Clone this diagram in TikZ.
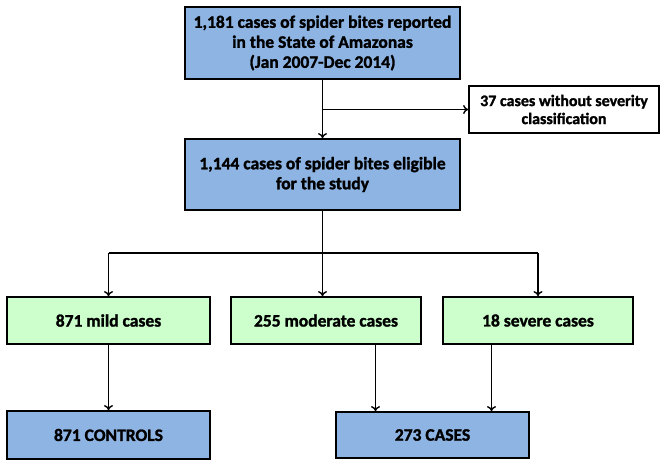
\documentclass[tikz,border=0pt]{standalone}
\usepackage{fontspec}
\setmainfont{Carlito}[BoldFeatures={FakeBold=1.5}]
\usetikzlibrary{arrows.meta}
\definecolor{boxblue}{RGB}{142,180,227}
\definecolor{boxgreen}{RGB}{204,255,204}
\tikzset{
  base/.style={draw=black, line width=1.8pt, align=center, inner sep=0pt,
    font=\bfseries\fontsize{17.5}{20}\selectfont},
  bluebox/.style={base, fill=boxblue},
  greenbox/.style={base, fill=boxgreen},
  whitebox/.style={base, fill=white, font=\bfseries\fontsize{16}{18}\selectfont},
  conn/.style={line width=1.6pt, -{To[length=5pt,width=9pt,line width=1.4pt]}},
  plain/.style={line width=1.6pt}
}
\begin{document}
\begin{tikzpicture}[x=1pt,y=1pt]
\useasboundingbox (0,0) rectangle (666,467);
\fill[white] (0,0) rectangle (666,467);
% boxes (y = 467 - pixel y)
\node[bluebox, minimum width=275, minimum height=72] (top) at (322.5,424)
  {1,181 cases of spider bites reported\\in the State of Amazonas\\(Jan 2007-Dec 2014)};
\node[whitebox, minimum width=190, minimum height=47] (side) at (564,357.5)
  {37 cases without severity\\classification};
\node[bluebox, minimum width=275, minimum height=71] (elig) at (322.5,292.5)
  {1,144 cases of spider bites eligible\\for the study};
\node[greenbox, minimum width=203, minimum height=47] (mild) at (108.5,146.5) {871 mild cases};
\node[greenbox, minimum width=190, minimum height=47] (mod) at (326,146.5) {255 moderate cases};
\node[greenbox, minimum width=190, minimum height=47] (sev) at (538,146.5) {18 severe cases};
\node[bluebox, minimum width=203, minimum height=48] (ctrl) at (108.5,32) {871 CONTROLS};
\node[bluebox, minimum width=193, minimum height=46] (cases) at (432.5,32) {273 CASES};
% connectors
\coordinate (br) at (top.south |- side.west);
\draw[conn] (top.south) -- (elig.north);
\draw[conn] (br) -- (side.west);
\coordinate (split) at (322.5,214);
\coordinate (splitL) at (108.5,214);
\coordinate (splitR) at (538,214);
\draw[plain] (elig.south) -- (split);
\draw[plain] (splitL) -- (splitR);
\draw[conn] (splitL) -- (splitL |- mild.north);
\draw[conn] (split) -- (split |- mod.north);
\draw[conn] (splitR) -- (splitR |- sev.north);
\draw[conn] (mild.south) -- (ctrl.north);
\coordinate (m2) at (375.5,123);
\coordinate (s2) at (491.5,123);
\draw[conn] (m2) -- (m2 |- cases.north);
\draw[conn] (s2) -- (s2 |- cases.north);
\end{tikzpicture}
\end{document}
